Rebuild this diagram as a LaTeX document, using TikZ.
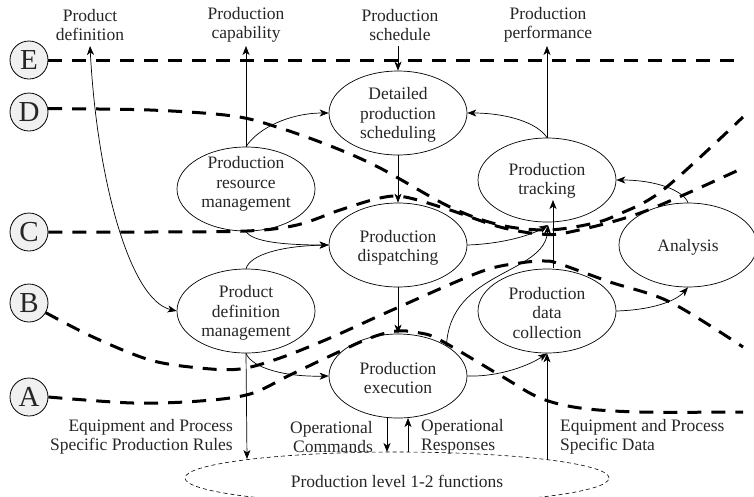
\documentclass[tikz,border=0pt]{standalone}
\usepackage{fontspec}
\setmainfont{Liberation Serif}
\usetikzlibrary{shapes.geometric,arrows.meta}
\newcommand\mainfs{\fontsize{17.5}{19.5}\selectfont}
\newcommand\letterfs{\fontsize{29}{30}\selectfont}
\tikzset{
  proc/.style={draw, ellipse, minimum width=138pt, minimum height=84pt, inner sep=0pt, line width=0.7pt},
  txt/.style={align=center, font=\mainfs, text=black!85, inner sep=0pt},
  lvlline/.style={line width=3pt, dash pattern=on 14pt off 10pt},
  arr/.style={-{Stealth[length=9pt,width=7pt,inset=2.5pt]}, line width=0.7pt},
  darr/.style={{Stealth[length=9pt,width=7pt,inset=2.5pt]}-{Stealth[length=9pt,width=7pt,inset=2.5pt]}, line width=0.7pt},
  letter/.style={draw, circle, minimum size=38pt, inner sep=0pt, fill=gray!12, line width=0.8pt, font=\letterfs, text=black!85}
}
\begin{document}
\begin{tikzpicture}[x=1pt,y=-1pt]
\useasboundingbox (0,0) rectangle (754,496);
\clip (0,0) rectangle (754,496);

% level letters
\node[letter] (E) at (29,60) {E};
\node[letter] (D) at (29,112) {D};
\node[letter] (C) at (29,232) {C};
\node[letter] (B) at (29,303) {B};
\node[letter] (A) at (29,397) {A};

% level boundary lines
\draw[lvlline] (E.east) -- (743,60);
\draw[lvlline] plot[smooth, tension=0.55] coordinates {(D.10) (150,110) (233,116) (280,128) (333,147) (380,168) (450,207) (500,225) (547,230) (590,224) (617,215) (663,190) (743,117)};
\draw[lvlline] plot[smooth, tension=0.55] coordinates {(C.east) (150,232) (247,231) (297,225) (340,210) (380,198) (405,197) (450,210) (500,227) (540,234) (570,232) (643,212) (743,168)};
\draw[lvlline] plot[smooth, tension=0.55] coordinates {(B.-30) (93,337) (150,360) (200,368) (240,369) (280,358) (330,338) (390,311) (480,272) (520,263) (545,261) (560,264) (610,282) (670,302) (743,347)};
\draw[lvlline] plot[smooth, tension=0.55] coordinates {(A.east) (133,403) (200,401) (250,394) (290,375) (330,356) (370,338) (397,331) (420,333) (440,340) (503,377) (540,398) (580,408) (640,412) (743,412)};

% functions
\node[proc] (dps) at (398,113) {};
\node[txt] (dpsT) at (398,115) {Detailed\\production\\scheduling};
\node[proc] (prm) at (246,189) {};
\node[txt] (prmT) at (246,184) {Production\\resource\\management};
\node[proc] (trk) at (547,180) {};
\node[txt] (trkT) at (547,181) {Production\\tracking};
\node[proc] (dis) at (398,245) {};
\node[txt] (disT) at (398,248) {Production\\dispatching};
\node[proc] (pdm) at (246,311) {};
\node[txt] (pdmT) at (246,313) {Product\\definition\\management};
\node[proc] (exe) at (398,376) {};
\node[txt] (exeT) at (398,378) {Production\\execution};
\node[proc] (dcol) at (547,311) {};
\node[txt] (dcolT) at (547,313) {Production\\data\\collection};
\node[proc] (ana) at (688,245) {};
\node[txt] (anaT) at (688,247) {Analysis};

\node[draw, ellipse, minimum width=424pt, minimum height=52pt, inner sep=0pt, line width=0.6pt, dash pattern=on 4pt off 3pt] (lvl) at (397,478) {};
\node[txt] (lvlT) at (397,481) {Production level 1-2 functions};

% top labels
\node[txt] (lpd) at (90,25) {Product\\definition};
\node[txt] (lpc) at (246,25) {Production\\capability};
\node[txt] (lps) at (400,25) {Production\\schedule};
\node[txt] (lpp) at (548,25) {Production\\performance};

% bottom labels
\node[txt, align=right, anchor=east] (lrules) at (233,437) {Equipment and Process\\Specific Production Rules};
\node[txt, align=right, anchor=east] (lcmd) at (373,437) {Operational\\Commands};
\node[txt, align=left, anchor=west] (lrsp) at (421,437) {Operational\\Responses};
\node[txt, align=left, anchor=west] (ldata) at (560,437) {Equipment and Process\\Specific Data};

% coordinates
\coordinate (pdtop) at (90,46);
\coordinate (pctop) at (246,46);
\coordinate (pstop) at (398,46);
\coordinate (pptop) at (547,46);
\coordinate (trkin) at (548,225);
\coordinate (dcup) at (553,268);
\coordinate (trkup) at (553,200);
\coordinate (rulesend) at (247,459);
\coordinate (cmdA) at (387,418);
\coordinate (cmdB) at (387,452);
\coordinate (rspA) at (408,452);
\coordinate (rspB) at (408,418);
\coordinate (dataA) at (547,460);

% connectors
\draw[darr] (pdm.west) .. controls (130,300) and (97,180) .. (pdtop);
\draw[arr] (prm.north) -- (pctop);
\draw[arr] (pstop) -- (dps.north);
\draw[arr] (trk.north) -- (pptop);
\draw[arr] (prm.north) .. controls (258,128) and (290,113) .. (dps.west);
\draw[arr] (trk.north) .. controls (537,122) and (505,113) .. (dps.east);
\draw[arr] (dps.south) -- (dis.north);
\draw[arr] (prm.south) .. controls (252,242) and (285,245) .. (dis.west);
\draw[arr] (pdm.north) .. controls (250,255) and (280,246) .. (dis.west);
\draw[arr] (dis.east) .. controls (500,244) and (530,236) .. (trkin);
\draw[arr] (dis.south) -- (exe.north);
\draw[arr] (dcup) -- (trkup);
\draw[arr] (exe.32) .. controls (450,270) and (545,275) .. (trkin);
\draw[arr] (pdm.south) .. controls (252,368) and (285,377) .. (exe.west);
\draw[arr] (pdm.south) -- (rulesend);
\draw[arr] (cmdA) -- (cmdB);
\draw[arr] (rspA) -- (rspB);
\draw[arr] (dataA) -- (dcol.south);
\draw[arr] (exe.east) .. controls (500,377) and (530,365) .. (dcol.south);
\draw[arr] (dcol.east) .. controls (650,310) and (675,302) .. (ana.south);
\draw[arr] (ana.north) .. controls (683,190) and (655,180) .. (trk.east);
\end{tikzpicture}
\end{document}
